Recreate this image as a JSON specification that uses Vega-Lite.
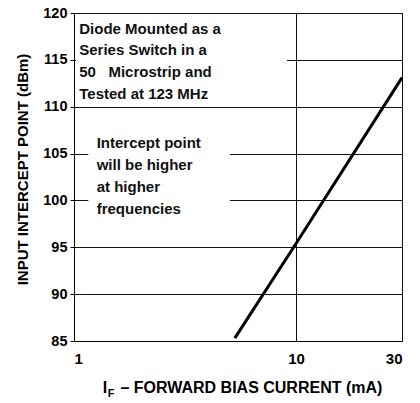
{
  "$schema": "https://vega.github.io/schema/vega-lite/v6.json",
  "width": 328,
  "height": 328,
  "autosize": {"type": "none"},
  "padding": {"left": 74, "top": 13, "right": 18, "bottom": 62},
  "background": "white",
  "config": {
    "font": "Liberation Sans",
    "view": {"stroke": "#000", "strokeWidth": 1}
  },
  "datasets": {
    "boxes": [
      {"x": 1.02, "x2": 9.1, "y": 110.6, "y2": 119.8},
      {"x": 1.16, "x2": 5.04, "y": 96.6, "y2": 108.4}
    ],
    "curve": [
      {"x": 5.3, "y": 85.3},
      {"x": 10, "y": 95.4},
      {"x": 30, "y": 113.1}
    ],
    "notes": [
      {"x": 1.056, "y": 118.3, "label": "Diode Mounted as a"},
      {"x": 1.056, "y": 116.0, "label": "Series Switch in a"},
      {"x": 1.056, "y": 113.7, "label": "50\u00a0\u00a0\u00a0Microstrip and"},
      {"x": 1.056, "y": 111.35, "label": "Tested at 123 MHz"},
      {"x": 1.265, "y": 106.15, "label": "Intercept point"},
      {"x": 1.265, "y": 103.75, "label": "will be higher"},
      {"x": 1.265, "y": 101.4, "label": "at higher"},
      {"x": 1.265, "y": 99.05, "label": "frequencies"}
    ],
    "sub": [
      {"x": 1.42, "y": 79.3, "label": "F"}
    ]
  },
  "layer": [
    {
      "data": {"name": "boxes"},
      "mark": {"type": "rect", "fill": "white", "stroke": null},
      "encoding": {
        "x": {
          "field": "x", "type": "quantitative",
          "scale": {"type": "log", "domain": [1, 30], "nice": false},
          "axis": {
            "values": [1, 10, 30], "format": "d",
            "grid": true, "gridColor": "#111", "gridWidth": 1,
            "domainColor": "#000", "tickSize": 0,
            "labelFontSize": 15, "labelFontWeight": "bold", "labelColor": "#000",
            "labelPadding": 10,
            "title": "I\u00a0\u00a0\u00a0– FORWARD BIAS CURRENT (mA)",
            "titleFontSize": 16, "titleFontWeight": "bold", "titleColor": "#000",
            "titleX": 168, "titleY": 46, "titleBaseline": "middle"
          }
        },
        "x2": {"field": "x2"},
        "y": {
          "field": "y", "type": "quantitative",
          "scale": {"domain": [85, 120], "nice": false, "zero": false},
          "axis": {
            "values": [85, 90, 95, 100, 105, 110, 115, 120],
            "grid": true, "gridColor": "#111", "gridWidth": 1,
            "domainColor": "#000", "tickColor": "#000", "tickSize": 4,
            "labelFontSize": 14.5, "labelFontWeight": "bold", "labelColor": "#000",
            "labelPadding": 3,
            "title": "INPUT INTERCEPT POINT (dBm)",
            "titleFontSize": 15, "titleFontWeight": "bold", "titleColor": "#000",
            "titleX": -52, "titleY": 156, "titleBaseline": "middle", "titleAngle": -90
          }
        },
        "y2": {"field": "y2"}
      }
    },
    {
      "data": {"name": "curve"},
      "mark": {"type": "line", "color": "#000", "strokeWidth": 3},
      "encoding": {
        "x": {"field": "x", "type": "quantitative"},
        "y": {"field": "y", "type": "quantitative"}
      }
    },
    {
      "data": {"name": "notes"},
      "mark": {"type": "text", "align": "left", "baseline": "middle", "fontSize": 15, "fontWeight": "bold", "color": "#111"},
      "encoding": {
        "x": {"field": "x", "type": "quantitative"},
        "y": {"field": "y", "type": "quantitative"},
        "text": {"field": "label"}
      }
    },
    {
      "data": {"name": "sub"},
      "mark": {"type": "text", "align": "left", "baseline": "middle", "fontSize": 11, "fontWeight": "bold", "color": "#000", "clip": false},
      "encoding": {
        "x": {"field": "x", "type": "quantitative"},
        "y": {"field": "y", "type": "quantitative"},
        "text": {"field": "label"}
      }
    }
  ]
}
